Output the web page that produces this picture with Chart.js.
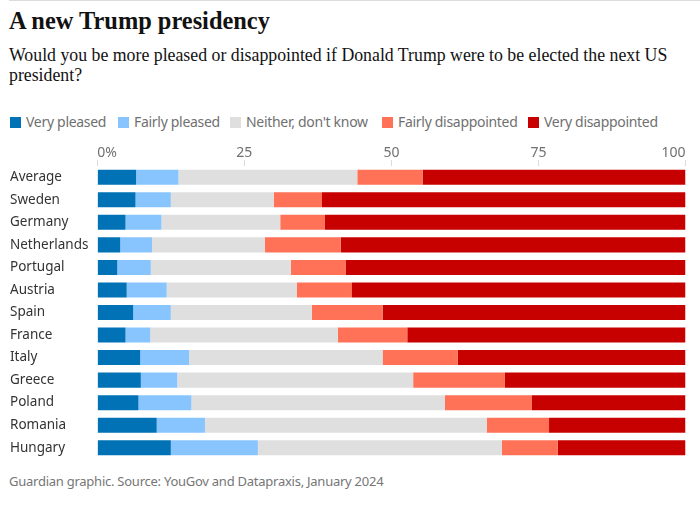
<!DOCTYPE html>
<html lang="en">
<head>
    <meta charset="UTF-8">
    <title>A new Trump presidency</title>
    <script src="https://cdn.jsdelivr.net/npm/chart.js"></script>
    <style>
        body {
            margin: 0;
            background: #fff;
            font-family: "Noto Sans", sans-serif;
        }

        #page {
            position: relative;
            width: 700px;
            height: 508px;
            overflow: hidden;
        }

        #topline {
            position: absolute;
            left: 9px;
            right: 0;
            top: 0;
            height: 1px;
            background: #dcdcdc;
        }

        h1 {
            position: absolute;
            left: 9px;
            top: 7px;
            margin: 0;
            font: bold 24.4px/28px "Liberation Serif", serif;
            color: #121212;
        }

        #subtitle {
            position: absolute;
            left: 9px;
            top: 45px;
            width: 680px;
            margin: 0;
            font: 17.8px/20px "Liberation Serif", serif;
            color: #121212;
        }

        #legend {
            position: absolute;
            left: 0;
            top: 112px;
            height: 20px;
            width: 700px;
            color: #707070;
            font-size: 14px;
            letter-spacing: -0.3px;
            line-height: 20px;
        }

        #legend span {
            position: absolute;
            top: 0;
            white-space: nowrap;
        }

        #legend i {
            position: absolute;
            top: 5px;
            width: 11px;
            height: 11px;
        }

        #chartBox {
            position: absolute;
            left: 0;
            top: 134px;
            width: 700px;
            height: 325px;
        }

        #source {
            position: absolute;
            left: 9px;
            top: 471px;
            margin: 0;
            font-size: 13px;
            letter-spacing: -0.25px;
            line-height: 20px;
            color: #767676;
        }
    </style>
</head>
<body>
    <div id="page">
        <div id="topline"></div>
        <h1>A new Trump presidency</h1>
        <p id="subtitle">Would you be more pleased or disappointed if Donald Trump were to be elected the next US president?</p>
        <div id="legend"></div>
        <div id="chartBox"><canvas id="trumpChart"></canvas></div>
        <p id="source">Guardian graphic. Source: YouGov and Datapraxis, January 2024</p>
    </div>

    <script>
        const countries = ['Average', 'Sweden', 'Germany', 'Netherlands', 'Portugal', 'Austria', 'Spain',
            'France', 'Italy', 'Greece', 'Poland', 'Romania', 'Hungary'];

        // Values, in percent
        const veryPleased = [6.6, 6.5, 4.8, 3.9, 3.4, 5.0, 6.1, 4.8, 7.3, 7.4, 7.0, 10.1, 12.5];
        const fairlyPleased = [7.2, 6.0, 6.1, 5.4, 5.7, 6.8, 6.4, 4.2, 8.3, 6.2, 9.0, 8.2, 14.8];
        const neither = [30.4, 17.5, 20.2, 19.2, 23.8, 22.1, 24.0, 31.9, 32.9, 40.1, 43.1, 47.9, 41.5];
        const fairlyDisappointed = [11.1, 8.2, 7.6, 12.9, 9.3, 9.4, 12.0, 11.8, 12.8, 15.6, 14.8, 10.6, 9.5];
        const veryDisappointed = [44.7, 61.8, 61.3, 58.6, 57.8, 56.7, 51.5, 47.3, 38.7, 30.7, 26.1, 23.2, 21.7];

        const seriesNames = ['Very pleased', 'Fairly pleased', 'Neither, don\'t know', 'Fairly disappointed', 'Very disappointed'];
        const seriesValues = [veryPleased, fairlyPleased, neither, fairlyDisappointed, veryDisappointed];
        const seriesColors = ['#0072b5', '#88c5ff', '#dfdfdf', '#ff7257', '#c70000'];
        const legendLeft = [10, 118, 230, 382, 528];

        // Legend sits in the page so it can be placed like the original
        const legend = document.getElementById('legend');
        seriesNames.forEach((name, i) => {
            const swatch = document.createElement('i');
            swatch.style.left = legendLeft[i] + 'px';
            swatch.style.background = seriesColors[i];
            const label = document.createElement('span');
            label.style.left = (legendLeft[i] + 16) + 'px';
            label.textContent = name;
            legend.appendChild(swatch);
            legend.appendChild(label);
        });

        new Chart(document.getElementById('trumpChart'), {
            type: 'bar',
            data: {
                labels: countries,
                datasets: seriesNames.map((name, i) => ({
                    label: name,
                    data: seriesValues[i],
                    backgroundColor: seriesColors[i],
                    borderWidth: 0,
                    barPercentage: 0.667,
                    categoryPercentage: 1
                }))
            },
            options: {
                indexAxis: 'y',
                responsive: true,
                maintainAspectRatio: false,
                animation: false,
                layout: { padding: { left: 10, right: 14.5, top: 0, bottom: 0 } },
                plugins: {
                    legend: { display: false },
                    tooltip: { enabled: false }
                },
                scales: {
                    x: {
                        position: 'top',
                        stacked: true,
                        min: 0,
                        max: 100,
                        afterFit: scale => {
                            scale.height = 32;
                            scale.paddingLeft = 0;
                            scale.paddingRight = 0;
                        },
                        border: { display: false },
                        grid: { drawOnChartArea: false, color: '#dcdcdc', tickLength: 6 },
                        ticks: {
                            stepSize: 25,
                            align: 'inner',
                            maxRotation: 0,
                            padding: -1,
                            color: '#707070',
                            font: { family: 'Noto Sans', size: 14 },
                            callback: value => value === 0 ? '0%' : value
                        }
                    },
                    y: {
                        stacked: true,
                        // keep the label overhang from shrinking the plot
                        afterFit: scale => {
                            scale.width = 87.3;
                            scale.paddingTop = 0;
                            scale.paddingBottom = 0;
                        },
                        border: { display: false },
                        grid: { display: false },
                        ticks: {
                            crossAlign: 'far',
                            padding: 0,
                            autoSkip: false,
                            color: '#333333',
                            font: { family: 'Noto Sans', size: 13.5 }
                        }
                    }
                }
            }
        });
    </script>
</body>
</html>
